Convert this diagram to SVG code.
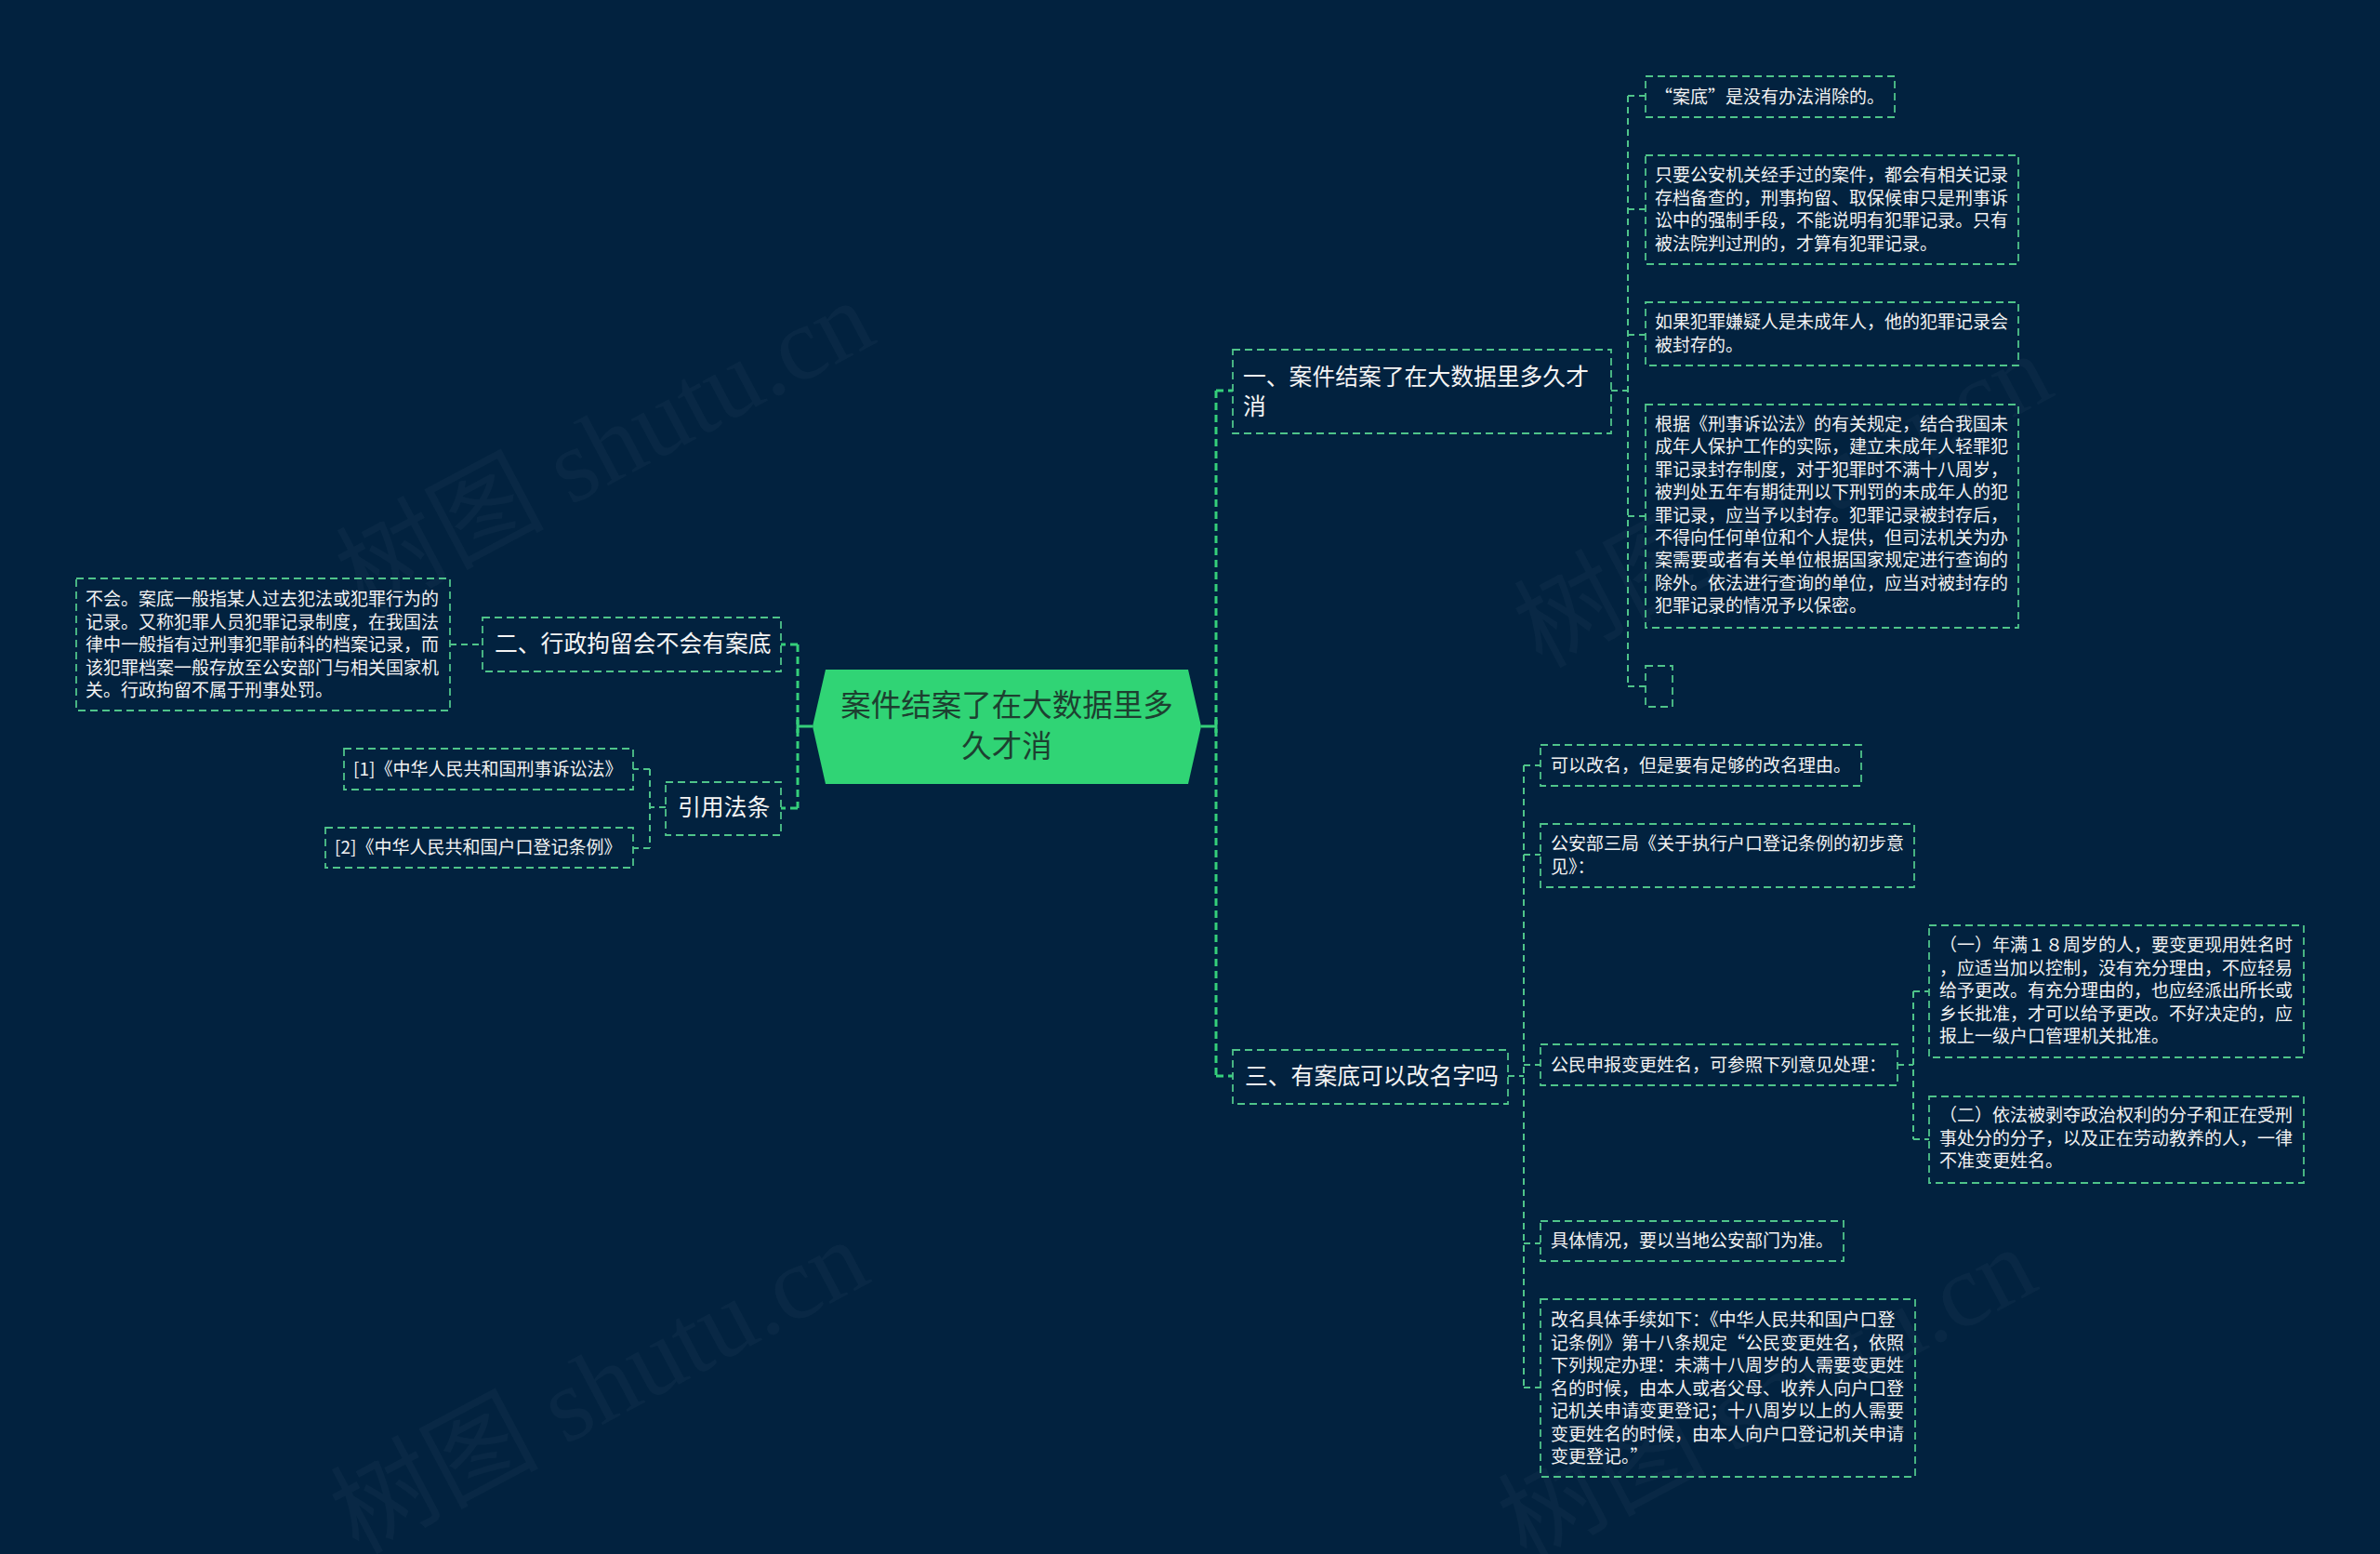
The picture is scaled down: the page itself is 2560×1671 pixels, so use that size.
<svg xmlns="http://www.w3.org/2000/svg" width="2560" height="1671" viewBox="0 0 2560 1671">
<style>
.bg{fill:#02223f}
.wm{font-family:"Liberation Serif","Noto Sans CJK SC",serif;font-size:112px;fill:#ffffff;fill-opacity:0.03}
.box{fill:none;stroke:#4fc48a;stroke-width:1.8;stroke-dasharray:8 5}
.main{fill:none;stroke:#35cf7b;stroke-width:3;stroke-dasharray:8 5}
.link{fill:none;stroke:#4fc48a;stroke-width:2;stroke-dasharray:7 5}
.solid{fill:none;stroke:#35cf7b;stroke-width:3}
.root{fill:#30d475}
.rt{font-family:"Noto Sans CJK SC","Noto Sans",sans-serif;font-size:32.5px;fill:#1d4030;text-anchor:middle}
.bt{font-family:"Noto Sans CJK SC","Noto Sans",sans-serif;font-size:24.8px;fill:#f4f4f4}
.lt{font-family:"Noto Sans CJK SC","Noto Sans",sans-serif;font-size:19px;fill:#f2f2f2}
</style>
<rect class="bg" x="0" y="0" width="2560" height="1671"/>
<g id="watermarks">
<text class="wm" transform="translate(391,662) rotate(-28)">树图 shutu.cn</text>
<text class="wm" transform="translate(385,1672) rotate(-28)">树图 shutu.cn</text>
<text class="wm" transform="translate(1658,719) rotate(-28)">树图 shutu.cn</text>
<text class="wm" transform="translate(1641,1680) rotate(-28)">树图 shutu.cn</text>
</g>
<g id="connectors">
<path class="solid" d="M1292,781 H1308 M1308,774 V788"/>
<path class="main" d="M1308,420 V1157"/>
<path class="main" d="M1308,420 H1326 M1308,1157 H1326"/>
<path class="solid" d="M874,781 H858 M858,774 V788"/>
<path class="main" d="M858,693 V869"/>
<path class="main" d="M858,693 H840 M858,869 H840"/>
<path class="link" d="M1733,420 H1751"/>
<path class="link" d="M1751,103 V738"/>
<path class="link" d="M1751,103 H1770 M1751,225 H1770 M1751,360 H1770 M1751,555 H1770 M1751,738 H1770"/>
<path class="link" d="M484,693 H519"/>
<path class="link" d="M716,868 H699 M699,827 V912 M699,827 H681 M699,912 H681"/>
<path class="link" d="M1622,1157 H1639"/>
<path class="link" d="M1639,823 V1492"/>
<path class="link" d="M1639,823 H1657 M1639,919 H1657 M1639,1145 H1657 M1639,1337 H1657 M1639,1492 H1657"/>
<path class="link" d="M2041,1145 H2058 M2058,1066 V1225 M2058,1066 H2075 M2058,1225 H2075"/>
</g>
<g id="root">
<polygon class="root" points="874,781 888,720 1278,720 1292,781 1278,843 888,843"/>
<text class="rt" x="1083" y="770">案件结案了在大数据里多</text>
<text class="rt" x="1083" y="814">久才消</text>
</g>
<g id="branch1">
<rect class="box" x="1326" y="376" width="407" height="90"/>
<text class="bt" x="1337" y="414">一、案件结案了在大数据里多久才</text>
<text class="bt" x="1337" y="446">消</text>
</g>
<g id="b1c1">
<rect class="box" x="1770" y="82" width="268" height="44"/>
<text class="lt" x="1780" y="111">“案底”是没有办法消除的。</text>
</g>
<g id="b1c2">
<rect class="box" x="1770" y="167" width="401" height="117"/>
<text class="lt" x="1780" y="195">只要公安机关经手过的案件，都会有相关记录</text>
<text class="lt" x="1780" y="219.5">存档备查的，刑事拘留、取保候审只是刑事诉</text>
<text class="lt" x="1780" y="244">讼中的强制手段，不能说明有犯罪记录。只有</text>
<text class="lt" x="1780" y="268.5">被法院判过刑的，才算有犯罪记录。</text>
</g>
<g id="b1c3">
<rect class="box" x="1770" y="325" width="401" height="68"/>
<text class="lt" x="1780" y="353">如果犯罪嫌疑人是未成年人，他的犯罪记录会</text>
<text class="lt" x="1780" y="377.5">被封存的。</text>
</g>
<g id="b1c4">
<rect class="box" x="1770" y="435" width="401" height="240"/>
<text class="lt" x="1780" y="463">根据《刑事诉讼法》的有关规定，结合我国未</text>
<text class="lt" x="1780" y="487.4">成年人保护工作的实际，建立未成年人轻罪犯</text>
<text class="lt" x="1780" y="511.8">罪记录封存制度，对于犯罪时不满十八周岁，</text>
<text class="lt" x="1780" y="536.2">被判处五年有期徒刑以下刑罚的未成年人的犯</text>
<text class="lt" x="1780" y="560.6">罪记录，应当予以封存。犯罪记录被封存后，</text>
<text class="lt" x="1780" y="585">不得向任何单位和个人提供，但司法机关为办</text>
<text class="lt" x="1780" y="609.4">案需要或者有关单位根据国家规定进行查询的</text>
<text class="lt" x="1780" y="633.8">除外。依法进行查询的单位，应当对被封存的</text>
<text class="lt" x="1780" y="658.2">犯罪记录的情况予以保密。</text>
</g>
<g id="b1c5">
<rect class="box" x="1770" y="716" width="29" height="44"/>
</g>
<g id="branch2">
<rect class="box" x="519" y="664" width="321" height="58"/>
<text class="bt" x="532" y="701">二、行政拘留会不会有案底</text>
</g>
<g id="b2c1">
<rect class="box" x="82" y="622" width="402" height="142"/>
<text class="lt" x="92" y="651">不会。案底一般指某人过去犯法或犯罪行为的</text>
<text class="lt" x="92" y="675.5">记录。又称犯罪人员犯罪记录制度，在我国法</text>
<text class="lt" x="92" y="700">律中一般指有过刑事犯罪前科的档案记录，而</text>
<text class="lt" x="92" y="724.5">该犯罪档案一般存放至公安部门与相关国家机</text>
<text class="lt" x="92" y="749">关。行政拘留不属于刑事处罚。</text>
</g>
<g id="refs">
<rect class="box" x="716" y="841" width="124" height="57"/>
<text class="bt" x="729" y="877">引用法条</text>
</g>
<g id="ref1">
<rect class="box" x="370" y="805" width="311" height="44"/>
<text class="lt" x="380" y="834">[1]《中华人民共和国刑事诉讼法》</text>
</g>
<g id="ref2">
<rect class="box" x="350" y="890" width="331" height="43"/>
<text class="lt" x="360" y="918">[2]《中华人民共和国户口登记条例》</text>
</g>
<g id="branch3">
<rect class="box" x="1326" y="1129" width="296" height="58"/>
<text class="bt" x="1339" y="1166">三、有案底可以改名字吗</text>
</g>
<g id="b3c1">
<rect class="box" x="1657" y="801" width="345" height="44"/>
<text class="lt" x="1668" y="830">可以改名，但是要有足够的改名理由。</text>
</g>
<g id="b3c2">
<rect class="box" x="1657" y="886" width="402" height="68"/>
<text class="lt" x="1668" y="914">公安部三局《关于执行户口登记条例的初步意</text>
<text class="lt" x="1668" y="938.5">见》：</text>
</g>
<g id="b3c3">
<rect class="box" x="1657" y="1123" width="384" height="44"/>
<text class="lt" x="1668" y="1152">公民申报变更姓名，可参照下列意见处理：</text>
</g>
<g id="b3c3a">
<rect class="box" x="2075" y="995" width="403" height="142"/>
<text class="lt" x="2086" y="1023">（一）年满１８周岁的人，要变更现用姓名时</text>
<text class="lt" x="2086" y="1047.5">，应适当加以控制，没有充分理由，不应轻易</text>
<text class="lt" x="2086" y="1072">给予更改。有充分理由的，也应经派出所长或</text>
<text class="lt" x="2086" y="1096.5">乡长批准，才可以给予更改。不好决定的，应</text>
<text class="lt" x="2086" y="1121">报上一级户口管理机关批准。</text>
</g>
<g id="b3c3b">
<rect class="box" x="2075" y="1179" width="403" height="93"/>
<text class="lt" x="2086" y="1206">（二）依法被剥夺政治权利的分子和正在受刑</text>
<text class="lt" x="2086" y="1230.5">事处分的分子，以及正在劳动教养的人，一律</text>
<text class="lt" x="2086" y="1255">不准变更姓名。</text>
</g>
<g id="b3c4">
<rect class="box" x="1657" y="1313" width="326" height="43"/>
<text class="lt" x="1668" y="1341">具体情况，要以当地公安部门为准。</text>
</g>
<g id="b3c5">
<rect class="box" x="1657" y="1397" width="403" height="191"/>
<text class="lt" x="1668" y="1426">改名具体手续如下：《中华人民共和国户口登</text>
<text class="lt" x="1668" y="1450.5">记条例》第十八条规定“公民变更姓名，依照</text>
<text class="lt" x="1668" y="1475">下列规定办理：未满十八周岁的人需要变更姓</text>
<text class="lt" x="1668" y="1499.5">名的时候，由本人或者父母、收养人向户口登</text>
<text class="lt" x="1668" y="1524">记机关申请变更登记；十八周岁以上的人需要</text>
<text class="lt" x="1668" y="1548.5">变更姓名的时候，由本人向户口登记机关申请</text>
<text class="lt" x="1668" y="1573">变更登记。”</text>
</g>
</svg>
